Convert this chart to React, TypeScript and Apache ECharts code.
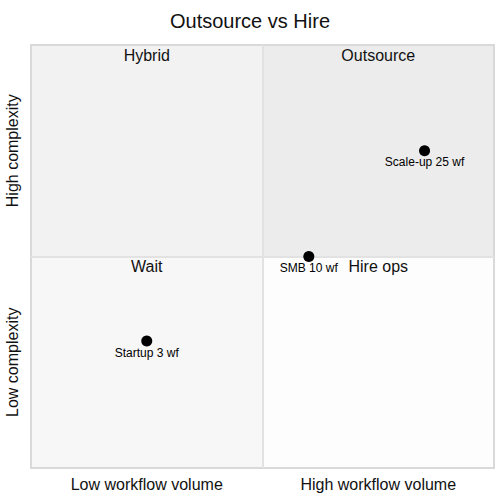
import React, { useEffect, useRef } from "react";
import * as echarts from "echarts";

const titleText = "Outsource vs Hire";
const xCategories = ["Low workflow volume", "High workflow volume"];
const yCategories = ["Low complexity", "High complexity"];
const pointNames = ["Startup 3 wf", "SMB 10 wf", "Scale-up 25 wf"];
const pointX = [0.25, 0.6, 0.85];
const pointY = [0.3, 0.5, 0.75];
const quadrantNames = ["Hybrid", "Outsource", "Wait", "Hire ops"];
const quadrantX = [[0, 0.5], [0.5, 1], [0, 0.5], [0.5, 1]];
const quadrantY = [[0.5, 1], [0.5, 1], [0, 0.5], [0, 0.5]];
const quadrantColors = ["#f2f2f2", "#ececec", "#f7f7f7", "#fdfdfd"];

const FONT = "Liberation Sans, Arial, sans-serif";

export default function App() {
  const ref = useRef<HTMLDivElement>(null);
  useEffect(() => {
    if (!ref.current) return;
    const chart = echarts.init(ref.current, undefined, { renderer: "svg" });
    const markData = quadrantNames.map((n, i) => [
      {
        name: n,
        xAxis: quadrantX[i][0],
        yAxis: quadrantY[i][0],
        itemStyle: { color: quadrantColors[i], opacity: 1 },
      },
      { xAxis: quadrantX[i][1], yAxis: quadrantY[i][1] },
    ]);
    chart.setOption({
      animation: false,
      textStyle: { fontFamily: FONT },
      title: {
        text: titleText,
        left: "center",
        top: 6,
        textStyle: { fontSize: 20, fontWeight: "normal", color: "#111", fontFamily: FONT },
      },
      grid: {
        left: 31,
        right: 6,
        top: 45,
        bottom: 32,
        show: true,
        z: 5,
        backgroundColor: "transparent",
        borderColor: "#d9d9d9",
        borderWidth: 2,
      },
      xAxis: [
        {
          type: "value",
          min: 0,
          max: 1,
          interval: 0.5,
          axisLine: { show: false },
          axisTick: { show: false },
          axisLabel: { show: false },
          splitLine: { show: false },
        },
        {
          type: "category",
          data: xCategories,
          position: "bottom",
          boundaryGap: true,
          axisLine: { show: false },
          axisTick: { show: false },
          axisLabel: { fontSize: 16, color: "#111", margin: 8, fontFamily: FONT },
          splitLine: { show: false },
        },
      ],
      yAxis: [
        {
          type: "value",
          min: 0,
          max: 1,
          interval: 0.5,
          axisLine: { show: false },
          axisTick: { show: false },
          axisLabel: { show: false },
          splitLine: { show: false },
        },
        {
          type: "category",
          data: yCategories,
          position: "left",
          boundaryGap: true,
          axisLine: { show: false },
          axisTick: { show: false },
          axisLabel: { fontSize: 16, color: "#111", rotate: 90, margin: 11, fontFamily: FONT },
          splitLine: { show: false },
        },
      ],
      series: [
        {
          type: "scatter",
          xAxisIndex: 0,
          yAxisIndex: 0,
          symbolSize: 11,
          itemStyle: { color: "#000", opacity: 1 },
          z: 10,
          data: pointNames.map((n, i) => ({ name: n, value: [pointX[i], pointY[i]] })),
          label: {
            show: true,
            position: "bottom",
            distance: 0,
            formatter: "{b}",
            fontSize: 12,
            color: "#000",
            fontFamily: FONT,
          },
          markArea: {
            silent: true,
            label: {
              show: true,
              position: "insideTop",
              distance: 2,
              fontSize: 16,
              color: "#111",
              fontFamily: FONT,
            },
            data: markData,
          },
          markLine: {
            silent: true,
            symbol: "none",
            label: { show: false },
            lineStyle: { color: "#e2e2e2", width: 2, type: "solid" },
            data: [{ xAxis: 0.5 }, { yAxis: 0.5 }],
          },
        },
      ],
    });
    return () => chart.dispose();
  }, []);
  return (
    <div
      ref={ref}
      style={{ width: 500, height: 500, position: "fixed", left: 0, top: 0, background: "#fff" }}
    />
  );
}
